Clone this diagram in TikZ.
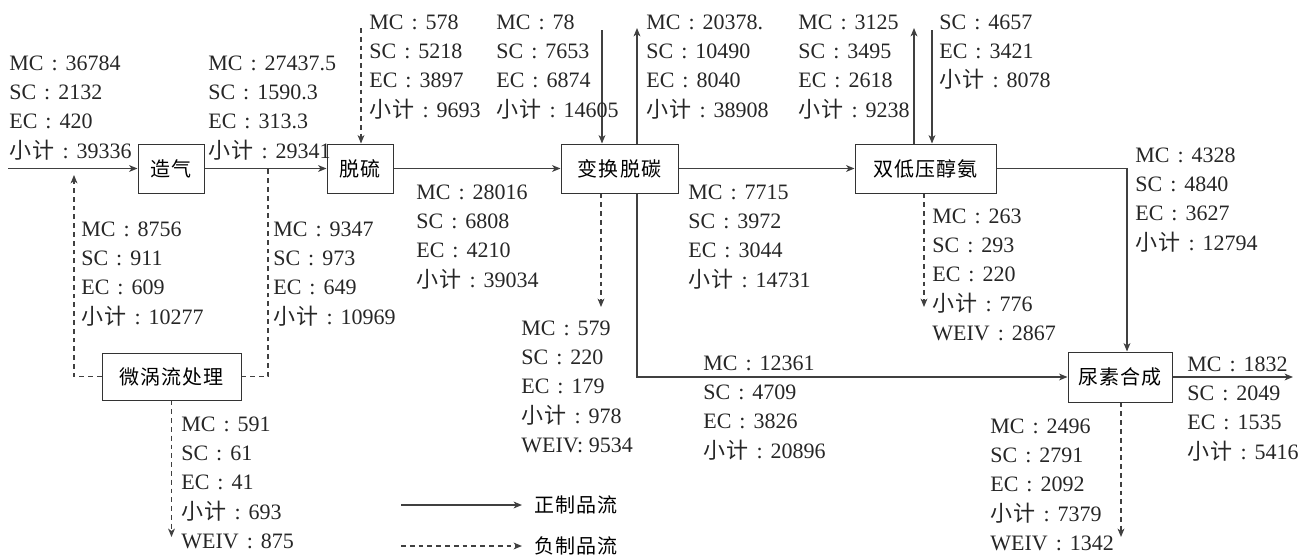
\documentclass[tikz,border=0pt]{standalone}
\usepackage{fontspec}
\setmainfont{Liberation Serif}
\newfontfamily\cjk[LetterSpace=6]{Noto Sans CJK SC}
\usetikzlibrary{arrows.meta}
\newcommand\zh[1]{{\cjk #1}}
\newcommand\cln{\makebox[1em][c]{:}}
\newcommand\xj{{\cjk 小计}}
\newcommand\blk[1]{\begin{tabular}[t]{@{}l@{}}#1\end{tabular}}
\tikzset{
  flow/.style={draw=black!75, line width=0.6pt},
  dflow/.style={draw=black!75, line width=0.6pt, dash pattern=on 2.4pt off 2pt},
  arr/.style={-{Stealth[length=4.2pt,width=3.4pt,inset=1.2pt]}},
  box/.style={draw=black!80, line width=0.5pt, inner sep=0pt, minimum height=24.5pt, font=\cjk},
  lbl/.style={anchor=base west, inner sep=0pt, text=black!85}
}
\begin{document}
\begin{tikzpicture}[x=0.5pt,y=-0.5pt,font=\fontsize{11pt}{14.7pt}\selectfont]
\useasboundingbox (0,0) rectangle (1308,558);
% boxes
\node[box, minimum width=33pt] (zq) at (171,168.5) {造气};
\node[box, minimum width=33pt] (ts) at (360,168.5) {脱硫};
\node[box, minimum width=58.5pt] (bx) at (619.5,168.5) {变换脱碳};
\node[box, minimum width=70.5pt] (sd) at (925.5,168.5) {双低压醇氨};
\node[box, minimum width=52pt, minimum height=25pt] (ns) at (1120,377) {尿素合成};
\node[box, minimum width=69.5pt, minimum height=23.5pt] (wl) at (171.5,376.5) {微涡流处理};
% coordinates
\coordinate (in0) at (8,168.5);
\coordinate (tsIn) at (361,28);
\coordinate (bxIn) at (602,30);
\coordinate (bxOut) at (637,28);
\coordinate (sdOut) at (914,28);
\coordinate (sdIn) at (932,30);
\coordinate (c1) at (1127,168.5);
\coordinate (c2) at (637,377);
\coordinate (out0) at (1293,377);
\coordinate (d1) at (601,307);
\coordinate (d2) at (924,307);
\coordinate (d3) at (1121,537);
\coordinate (d4) at (171.5,537);
\coordinate (d5) at (74,175);
\coordinate (d6) at (268,168.5);
% solid flows
\draw[flow,arr] (in0) -- (zq.west);
\draw[flow,arr] (zq.east) -- (ts.west);
\draw[flow,arr] (ts.east) -- (bx.west);
\draw[flow,arr] (bx.east) -- (sd.west);
\draw[flow,arr] (sd.east) -- (c1) -- (c1 |- ns.north);
\draw[flow,arr] (c2 |- bx.south) -- (c2) -- (ns.west);
\draw[flow,arr] (ns.east) -- (out0);
\draw[flow,arr] (bxIn) -- (bxIn |- bx.north);
\draw[flow,arr] (bxOut |- bx.north) -- (bxOut);
\draw[flow,arr] (sdOut |- sd.north) -- (sdOut);
\draw[flow,arr] (sdIn) -- (sdIn |- sd.north);
% dashed flows
\draw[dflow,arr] (tsIn) -- (tsIn |- ts.north);
\draw[dflow,arr] (d1 |- bx.south) -- (d1);
\draw[dflow,arr] (d2 |- sd.south) -- (d2);
\draw[dflow,arr] (d3 |- ns.south) -- (d3);
\draw[dflow,arr] (wl.south) -- (d4);
\draw[dflow,arr] (wl.west) -| (d5);
\draw[dflow] (wl.east) -| (d6);
% labels
\node[lbl] (tA) at (9,70) {\blk{MC\cln 36784\\SC\cln 2132\\EC\cln 420\\\xj\cln 39336}};
\node[lbl] (tB) at (208,70) {\blk{MC\cln 27437.5\\SC\cln 1590.3\\EC\cln 313.3\\\xj\cln 29341}};
\node[lbl] (tC) at (369,29) {\blk{MC\cln 578\\SC\cln 5218\\EC\cln 3897\\\xj\cln 9693}};
\node[lbl] (tD) at (496,29) {\blk{MC\cln 78\\SC\cln 7653\\EC\cln 6874\\\xj\cln 14605}};
\node[lbl] (tE) at (646,29) {\blk{MC\cln 20378.\\SC\cln 10490\\EC\cln 8040\\\xj\cln 38908}};
\node[lbl] (tF) at (798,29) {\blk{MC\cln 3125\\SC\cln 3495\\EC\cln 2618\\\xj\cln 9238}};
\node[lbl] (tG) at (939,29) {\blk{SC\cln 4657\\EC\cln 3421\\\xj\cln 8078}};
\node[lbl] (tH) at (1135,162) {\blk{MC\cln 4328\\SC\cln 4840\\EC\cln 3627\\\xj\cln 12794}};
\node[lbl] (tI) at (81,236) {\blk{MC\cln 8756\\SC\cln 911\\EC\cln 609\\\xj\cln 10277}};
\node[lbl] (tJ) at (273,236) {\blk{MC\cln 9347\\SC\cln 973\\EC\cln 649\\\xj\cln 10969}};
\node[lbl] (tK) at (416,199) {\blk{MC\cln 28016\\SC\cln 6808\\EC\cln 4210\\\xj\cln 39034}};
\node[lbl] (tL) at (688,199) {\blk{MC\cln 7715\\SC\cln 3972\\EC\cln 3044\\\xj\cln 14731}};
\node[lbl] (tM) at (932,223) {\blk{MC\cln 263\\SC\cln 293\\EC\cln 220\\\xj\cln 776\\WEIV\cln 2867}};
\node[lbl] (tN) at (521,335) {\blk{MC\cln 579\\SC\cln 220\\EC\cln 179\\\xj\cln 978\\WEIV: 9534}};
\node[lbl] (tO) at (703,370) {\blk{MC\cln 12361\\SC\cln 4709\\EC\cln 3826\\\xj\cln 20896}};
\node[lbl] (tP) at (181,431) {\blk{MC\cln 591\\SC\cln 61\\EC\cln 41\\\xj\cln 693\\WEIV\cln 875}};
\node[lbl] (tQ) at (990,433) {\blk{MC\cln 2496\\SC\cln 2791\\EC\cln 2092\\\xj\cln 7379\\WEIV\cln 1342}};
\node[lbl] (tR) at (1187,371) {\blk{MC\cln 1832\\SC\cln 2049\\EC\cln 1535\\\xj\cln 5416}};
% legend
\node[anchor=west, inner xsep=6pt, inner ysep=0pt, font=\cjk] (lg1) at (522,505) {正制品流};
\node[anchor=west, inner xsep=6pt, inner ysep=0pt, font=\cjk] (lg2) at (522,546) {负制品流};
\coordinate (lg1s) at (401,505);
\coordinate (lg2s) at (401,546);
\draw[flow,arr] (lg1s) -- (lg1.west);
\draw[dflow,arr] (lg2s) -- (lg2.west);
\end{tikzpicture}
\end{document}
